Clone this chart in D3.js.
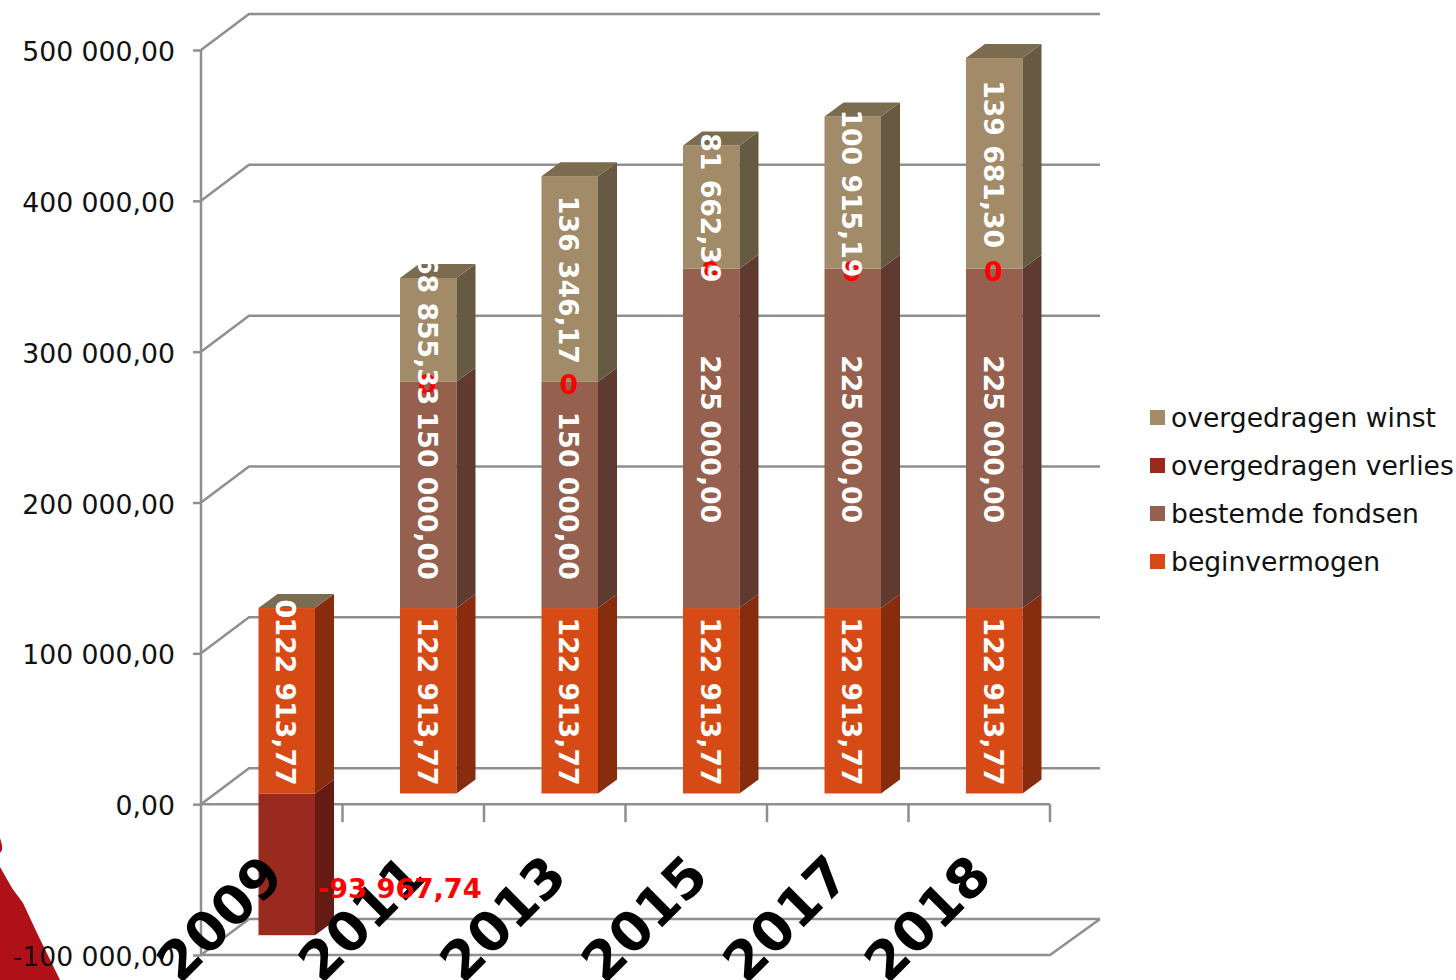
<!DOCTYPE html>
<html><head><meta charset="utf-8">
<script src="https://cdn.jsdelivr.net/npm/d3@7/dist/d3.min.js"></script>
<style>html,body{margin:0;padding:0;background:#fff}svg{display:block}text{font-family:"DejaVu Sans",sans-serif}</style>
</head><body><svg id="c" width="1456" height="980"></svg>
<script>
const years = ["2009","2011","2013","2015","2017","2018"];
const beginvermogen = [122913.77,122913.77,122913.77,122913.77,122913.77,122913.77];
const bestemdeFondsen = [0,150000,150000,225000,225000,225000];
const overgedragenVerlies = [-93967.74,0,0,0,0,0];
const overgedragenWinst = [0,68855.33,136346.17,81662.39,100915.19,139681.30];
const yTicks = [-100000,0,100000,200000,300000,400000,500000];
const seriesNames = ["beginvermogen","bestemde fondsen","overgedragen verlies","overgedragen winst"];
const seriesValues = [beginvermogen,bestemdeFondsen,overgedragenVerlies,overgedragenWinst];
const frontColors = ["#d64a16","#95604e","#9a2a1e","#a18b68"];
const sideColors = ["#872d0e","#5e3a30","#651b14","#675a42"];
const topColor = "#7c6c4f";
const labelColors = ["#fff","#fff","#f00","#fff"];

const loc = d3.formatLocale({decimal:",",thousands:"\u00a0",grouping:[3],currency:["",""],minus:"-"});
const fmt = loc.format(",.2f");
const fmtLabel = v => v===0 ? "0" : fmt(v);

const svg = d3.select("#c");
const FS = 26.7, GRID="#8f8f8f", GW=2.5;
const y = d3.scaleLinear().domain([-100000,500000]).range([955,50]);
const x = d3.scaleBand().domain(years).range([201,1050]);
const wallDx=48, wallDy=-36, wallRight=1100;
const barInset=57.5, barW=56.5, depthX=19, depthY=-14, barShift=-10.7;

// background decoration
svg.append("path").attr("fill","#b01018").attr("d",d3.line()([[0,867],[12,888],[23,903],[37,933],[60,980],[0,980]]));
svg.append("path").attr("fill","#b01018").attr("d",d3.line()([[0,838],[2,845],[2,850],[0,853]]));

// walls
const grid = svg.append("g").attr("fill","none").attr("stroke",GRID).attr("stroke-width",GW);
yTicks.forEach(t=>{
  const p=[[201,y(t)],[201+wallDx,y(t)+wallDy],[wallRight,y(t)+wallDy]];
  grid.append("path").attr("d",d3.line()(p));
});
grid.append("path").attr("d",d3.line()([[201,y(-100000)],[1050,y(-100000)],[wallRight,y(-100000)+wallDy]]));
grid.append("path").attr("d",d3.line()([[201,y(0)],[1050,y(0)]]));
years.forEach(d=>{
  const xr=x(d)+x.bandwidth();
  grid.append("line").attr("x1",xr).attr("x2",xr).attr("y1",y(0)).attr("y2",y(0)+18);
});

// y axis
const yAxis = d3.axisLeft(y).tickValues(yTicks).tickSize(8).tickPadding(18).tickFormat(fmt);
const yg = svg.append("g").attr("transform","translate(201,0)").call(yAxis);
yg.selectAll("line").attr("stroke",GRID).attr("stroke-width",GW);
yg.select(".domain").attr("stroke",GRID).attr("stroke-width",GW).attr("d",`M0,${y(500000)}V${y(-100000)}`);
yg.selectAll("text").attr("font-size",FS).attr("font-family","DejaVu Sans").attr("fill","#111").attr("y",2);

// stacking
const stacked = years.map((yr,i)=>{
  let pos=0,neg=0;
  return seriesValues.map((vals,s)=>{
    const v=vals[i];
    if(v<0){const a=neg;neg+=v;return {yr,s,v,v0:neg,v1:a};}
    const a=pos;pos+=v;return {yr,s,v,v0:a,v1:pos};
  });
});
const Y = v=>y(v)+barShift;
const defs = svg.append("defs");

const bars = svg.append("g");
stacked.forEach((segs,i)=>{
  const bx=x(years[i])+barInset;
  const g=bars.append("g");
  const order=[...segs].sort((a,b)=>a.v0-b.v0);
  order.filter(d=>d.v!==0).forEach(d=>{
    const yT=Y(d.v1), yB=Y(d.v0);
    g.append("rect").attr("x",bx).attr("y",yT).attr("width",barW).attr("height",yB-yT).attr("fill",frontColors[d.s]);
    g.append("path").attr("fill",sideColors[d.s]).attr("d",d3.line()([[bx+barW,yT],[bx+barW+depthX,yT+depthY],[bx+barW+depthX,yB+depthY],[bx+barW,yB]])+"Z");
  });
  const top=d3.max(segs,d=>d.v1);
  g.append("path").attr("fill",topColor).attr("d",d3.line()([[bx,Y(top)],[bx+depthX,Y(top)+depthY],[bx+barW+depthX,Y(top)+depthY],[bx+barW,Y(top)]])+"Z");
  defs.append("clipPath").attr("id","clip"+i).append("rect").attr("x",bx-10).attr("y",Y(top)+depthY).attr("width",barW+40).attr("height",980);
});

// category labels
const xAxis = d3.axisBottom(x).tickSize(0).tickPadding(0);
const xg = svg.append("g").call(xAxis);
xg.select(".domain").remove();
xg.selectAll(".tick").attr("transform",d=>`translate(${x(d)+x.bandwidth()/2-14},850) rotate(-45)`);
xg.selectAll("text").attr("y",0).attr("dy","0.75em").attr("text-anchor","end")
  .attr("font-size",54).attr("font-weight","bold").attr("font-family","DejaVu Sans").attr("fill","#000");

// data labels
const lab = svg.append("g");
stacked.forEach((segs,i)=>{
  const cx=x(years[i])+barInset+barW/2-1;
  const g=lab.append("g").attr("clip-path",`url(#clip${i})`);
  segs.forEach(d=>{
    if(d.s!==2) return;
    if(d.v<0){
      g.attr("clip-path",null);
      g.append("text").attr("text-anchor","middle").attr("x",cx+114).attr("y",(Y(d.v0)+Y(d.v1))/2+24)
       .attr("dominant-baseline","central").attr("font-size",27.3).attr("font-weight","bold").attr("fill",labelColors[d.s]).text(fmtLabel(d.v));
    } else {
      g.append("text").attr("text-anchor","middle").attr("x",cx).attr("y",Y(d.v1)+3)
       .attr("dominant-baseline","central").attr("font-size",FS).attr("font-weight","bold").attr("fill",labelColors[d.s]).text("0");
    }
  });
  segs.forEach(d=>{
    if(d.s===2) return;
    const cy=(Y(d.v0)+Y(d.v1))/2+0.8;
    g.append("text").attr("transform",`translate(${cx},${cy}) rotate(90)`).attr("text-anchor","middle")
     .attr("dominant-baseline","central").attr("font-size",FS).attr("font-weight","bold").attr("fill",labelColors[d.s]).text(fmtLabel(d.v));
  });
});

// legend
const legendOrder=[3,2,1,0];
const lg=svg.append("g");
legendOrder.forEach((s,k)=>{
  const ly=418+k*48;
  lg.append("rect").attr("x",1150).attr("y",ly-8).attr("width",15).attr("height",15).attr("fill",frontColors[s]);
  lg.append("text").attr("x",1171).attr("y",ly-1).attr("dominant-baseline","central").attr("font-size",26.6).attr("fill","#111").text(seriesNames[s]);
});
</script></body></html>
